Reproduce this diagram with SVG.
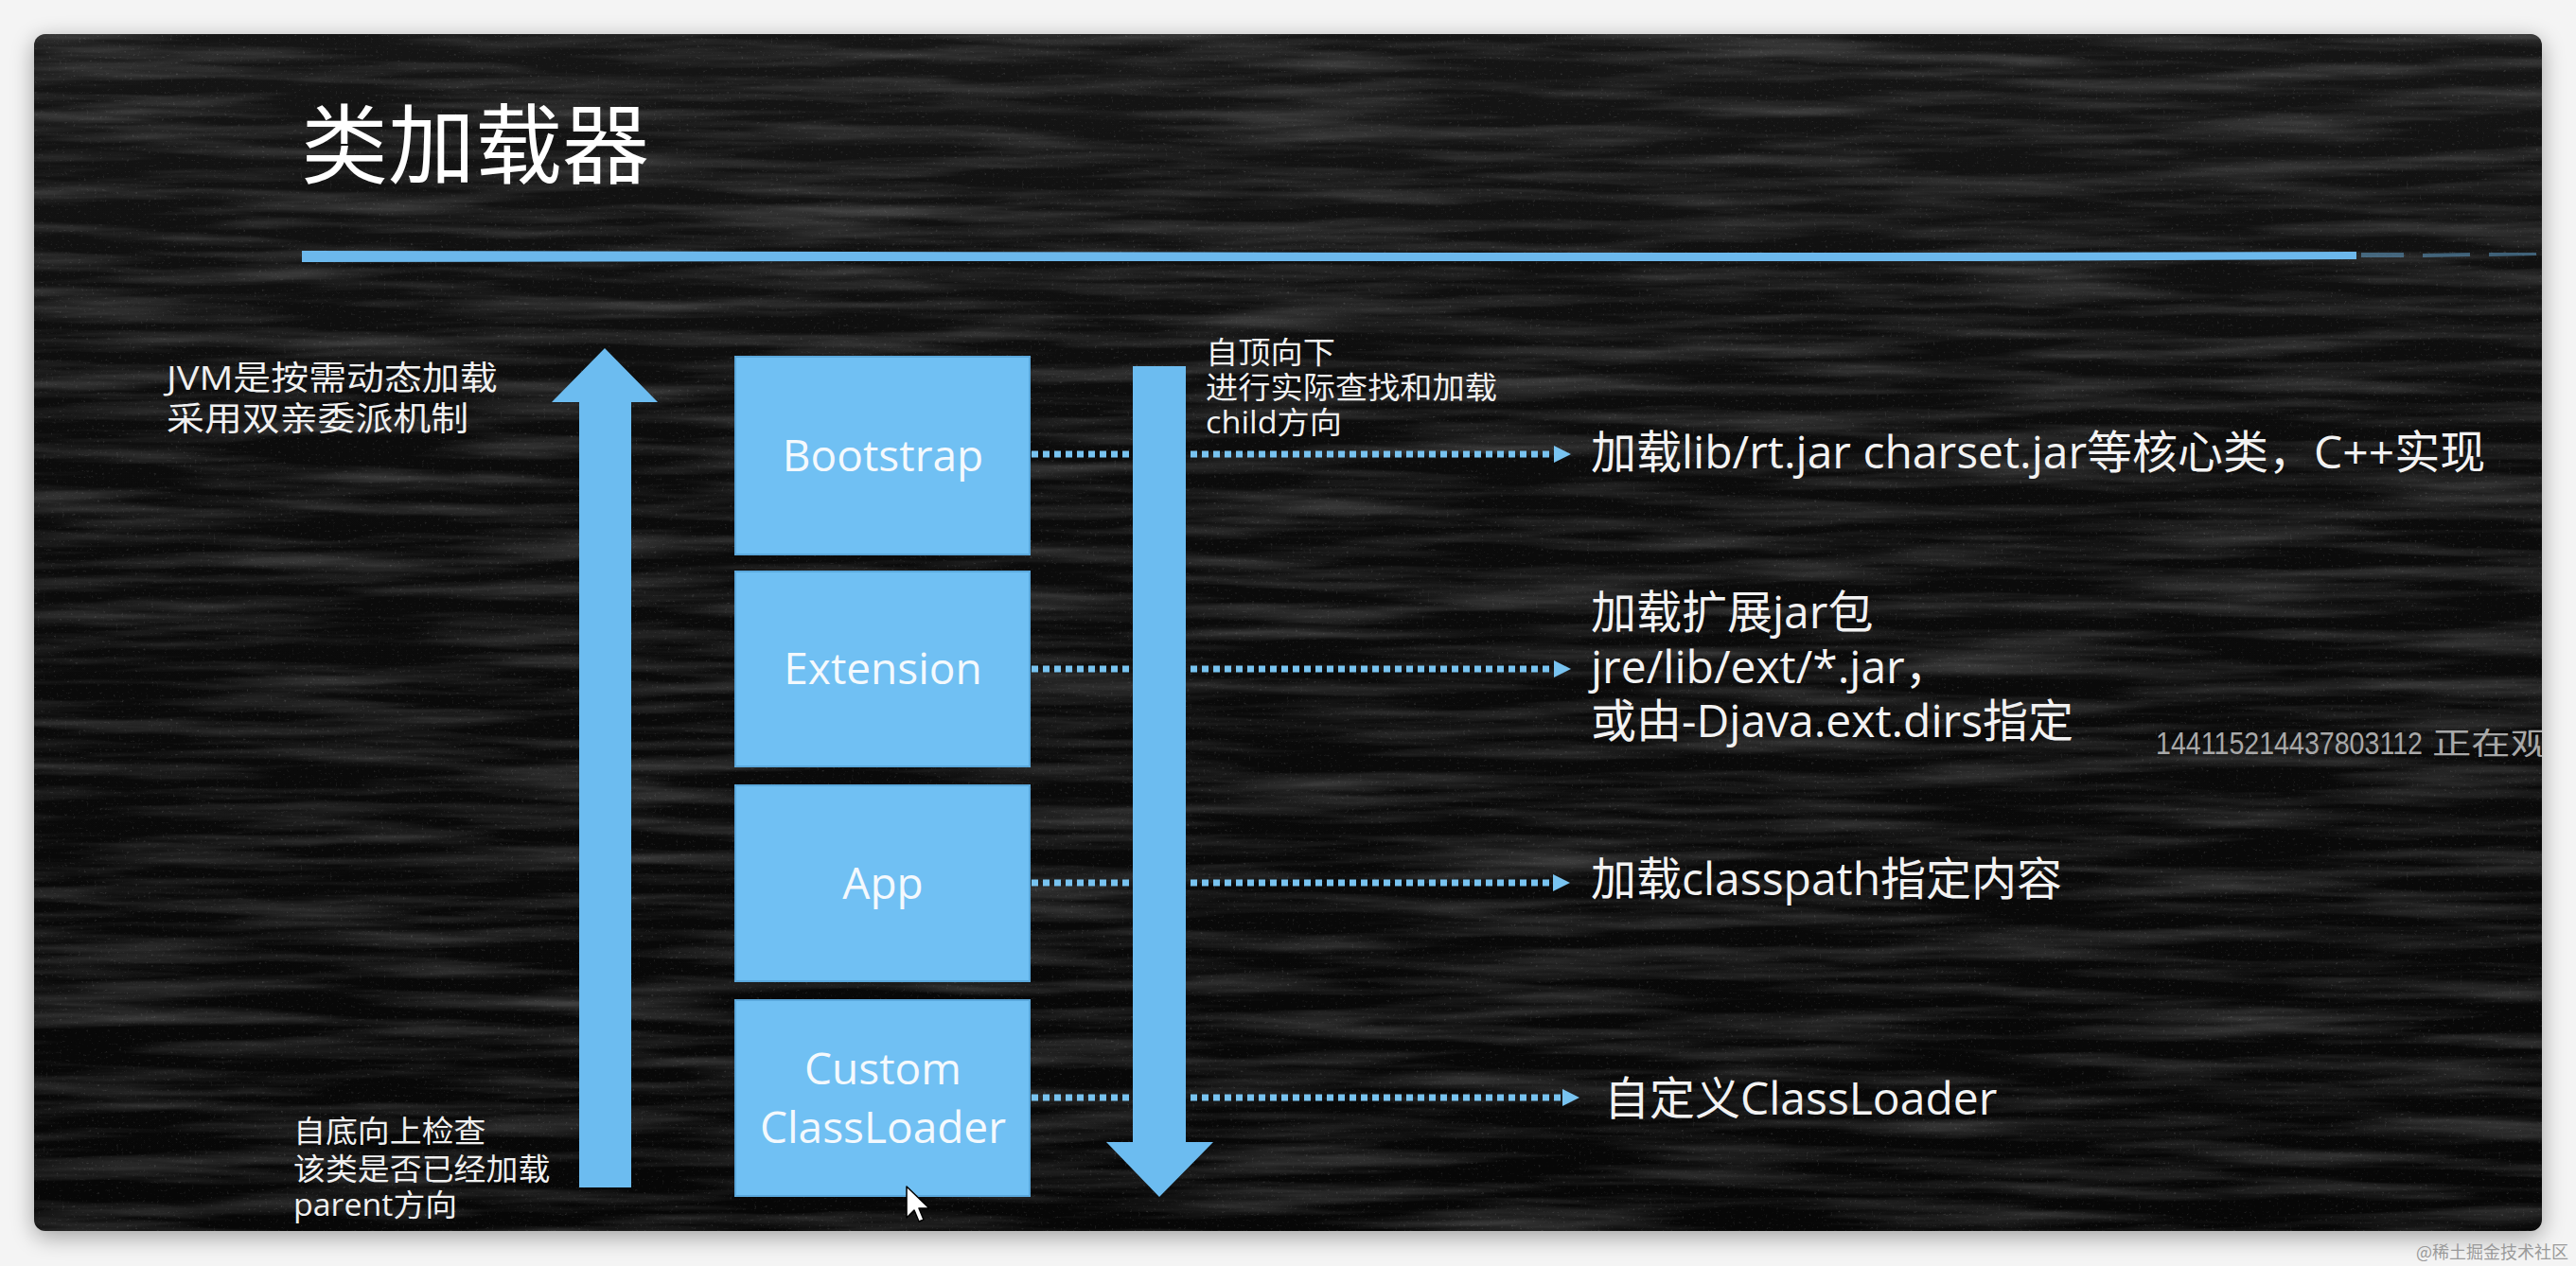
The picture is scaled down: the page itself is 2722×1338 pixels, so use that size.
<svg xmlns="http://www.w3.org/2000/svg" width="2722" height="1338" viewBox="0 0 2722 1338">
  <defs>
    <style>
      .box { fill: #70c0f3; stroke: #5aa8dc; stroke-width: 2; }
      .boxlabel { font-family: "Open Sans", "Noto Sans", sans-serif; font-size: 46px; fill: #f4f9fd; text-anchor: middle; }
      .note { font-family: "Open Sans", "Noto Sans CJK SC", sans-serif; fill: #f0f0f0; }
      .desc { font-family: "Open Sans", "Noto Sans CJK SC", sans-serif; font-size: 48px; fill: #f2f2f2; }
      .dots { stroke: #78c3f0; stroke-width: 7; stroke-dasharray: 7 5; fill: none; }
      .bigarrow { fill: #6cbcf0; }
    </style>
    <marker id="tip" viewBox="0 0 18 18" refX="0" refY="9" markerWidth="18" markerHeight="18" markerUnits="userSpaceOnUse" orient="auto">
      <path d="M0,0 L18,9 L0,18 z" fill="#78c3f0"/>
    </marker>
    <filter id="shadow" x="-5%" y="-5%" width="110%" height="110%">
      <feGaussianBlur stdDeviation="12"/>
    </filter>
    <filter id="chalk" x="0" y="0" width="100%" height="100%">
      <feTurbulence type="fractalNoise" baseFrequency="0.004 0.06" numOctaves="4" seed="7" result="n"/>
      <feColorMatrix in="n" type="matrix" values="0 0 0 0 1  0 0 0 0 1  0 0 0 0 1  0.4 0 0 0 -0.16"/>
    </filter>
    <filter id="grain" x="0" y="0" width="100%" height="100%">
      <feTurbulence type="fractalNoise" baseFrequency="0.35" numOctaves="2" seed="11" result="g"/>
      <feColorMatrix in="g" type="matrix" values="0 0 0 0 1  0 0 0 0 1  0 0 0 0 1  1.4 0 0 0 -0.9"/>
    </filter>
    <linearGradient id="topglow" x1="0" y1="0" x2="0" y2="1">
      <stop offset="0" stop-color="#ffffff" stop-opacity="0.06"/>
      <stop offset="0.35" stop-color="#ffffff" stop-opacity="0.02"/>
      <stop offset="1" stop-color="#ffffff" stop-opacity="0"/>
    </linearGradient>
    <clipPath id="panelClip">
      <rect x="36" y="36" width="2650" height="1265" rx="12"/>
    </clipPath>
  </defs>

  <!-- page background -->
  <rect x="0" y="0" width="2722" height="1338" fill="#f4f4f4"/>
  <rect x="36" y="42" width="2650" height="1265" rx="12" fill="#000" opacity="0.35" filter="url(#shadow)"/>

  <!-- chalkboard panel -->
  <g id="panel" clip-path="url(#panelClip)">
    <rect x="36" y="36" width="2650" height="1265" fill="#070707"/>
    <rect x="36" y="36" width="2650" height="1265" filter="url(#chalk)"/>
    <rect x="36" y="36" width="2650" height="1265" filter="url(#grain)" opacity="0.35"/>
    <rect x="36" y="36" width="2650" height="1265" fill="url(#topglow)"/>
    <text x="2278" y="797" font-family="Liberation Sans, Noto Sans CJK SC, sans-serif" font-size="34" fill="#a8a8a8"><tspan textLength="282" lengthAdjust="spacingAndGlyphs">144115214437803112</tspan><tspan x="2570" font-size="32" textLength="124" lengthAdjust="spacingAndGlyphs">正在观</tspan></text>
  </g>

  <!-- title -->
  <text id="title" x="318" y="187" font-family="Noto Sans CJK SC, sans-serif" font-size="92" fill="#ffffff">类加载器</text>
  <path id="title-rule" d="M319,265 L900,266 L1500,267 L2100,267 L2490,266 L2490,274 L2100,276 L1500,276 L900,276 L319,277 Z" fill="#6cb8ec"/>
  <path d="M2495,267 L2540,267 L2540,272 L2495,272 Z M2560,268 L2610,267 L2610,271 L2560,272 Z M2630,267 L2680,267 L2680,270 L2630,271 Z" fill="#6cb8ec" opacity="0.45"/>

  <!-- side notes -->
  <text class="note" font-size="35" transform="translate(176,0) scale(1.14,1)">
    <tspan x="0" y="412">JVM是按需动态加载</tspan>
    <tspan x="0" y="455">采用双亲委派机制</tspan>
  </text>
  <text class="note" font-size="32" transform="translate(1274,0) scale(1.07,1)">
    <tspan x="0" y="384">自顶向下</tspan>
    <tspan x="0" y="421">进行实际查找和加载</tspan>
    <tspan x="0" y="458">child方向</tspan>
  </text>
  <text class="note" font-size="32" transform="translate(310,0) scale(1.06,1)">
    <tspan x="0" y="1207">自底向上检查</tspan>
    <tspan x="0" y="1247">该类是否已经加载</tspan>
    <tspan x="0" y="1285">parent方向</tspan>
  </text>

  <!-- connectors (dotted arrows) -->
  <g id="connectors">
    <line class="dots" x1="1090" y1="480" x2="1642" y2="480" marker-end="url(#tip)"/>
    <line class="dots" x1="1090" y1="707" x2="1642" y2="707" marker-end="url(#tip)"/>
    <line class="dots" x1="1090" y1="933" x2="1641" y2="933" marker-end="url(#tip)"/>
    <line class="dots" x1="1090" y1="1160" x2="1651" y2="1160" marker-end="url(#tip)"/>
  </g>

  <!-- big direction arrows -->
  <g id="flow-arrows">
    <polygon id="arrow-up" class="bigarrow" points="639,368 695,425 667,425 667,1255 612,1255 612,425 583,425"/>
    <polygon id="arrow-down" class="bigarrow" points="1197,387 1253,387 1253,1207 1282,1207 1225,1265 1169,1207 1197,1207"/>
  </g>

  <!-- nodes -->
  <g id="bootstrap">
    <rect class="box" x="777" y="377" width="311" height="209"/>
    <text class="boxlabel" x="933" y="498">Bootstrap</text>
  </g>
  <g id="extension">
    <rect class="box" x="777" y="604" width="311" height="206"/>
    <text class="boxlabel" x="933" y="723">Extension</text>
  </g>
  <g id="app">
    <rect class="box" x="777" y="830" width="311" height="207"/>
    <text class="boxlabel" x="933" y="950">App</text>
  </g>
  <g id="custom">
    <rect class="box" x="777" y="1057" width="311" height="207"/>
    <text class="boxlabel" x="933" y="1146">Custom</text>
    <text class="boxlabel" x="933" y="1208">ClassLoader</text>
  </g>

  <!-- descriptions -->
  <g id="descriptions">
    <text class="desc" x="1681" y="495">加载lib/rt.jar charset.jar等核心类，C++实现</text>
    <text class="desc">
      <tspan x="1681" y="664">加载扩展jar包</tspan>
      <tspan x="1681" y="722">jre/lib/ext/*.jar，</tspan>
      <tspan x="1681" y="779">或由-Djava.ext.dirs指定</tspan>
    </text>
    <text class="desc" x="1681" y="946">加载classpath指定内容</text>
    <text class="desc" x="1695" y="1178">自定义ClassLoader</text>
  </g>

  <!-- mouse pointer -->
  <path id="cursor" d="M958,1254 L958,1287 L966,1279 L971,1291 L976,1289 L971,1277 L982,1277 Z" fill="#ffffff" stroke="#000000" stroke-width="1.5" stroke-linejoin="round"/>

  <!-- footer watermark -->
  <text x="2714" y="1330" text-anchor="end" font-family="Noto Sans CJK SC, sans-serif" font-size="18" fill="#9a9a9a">@稀土掘金技术社区</text>
</svg>
